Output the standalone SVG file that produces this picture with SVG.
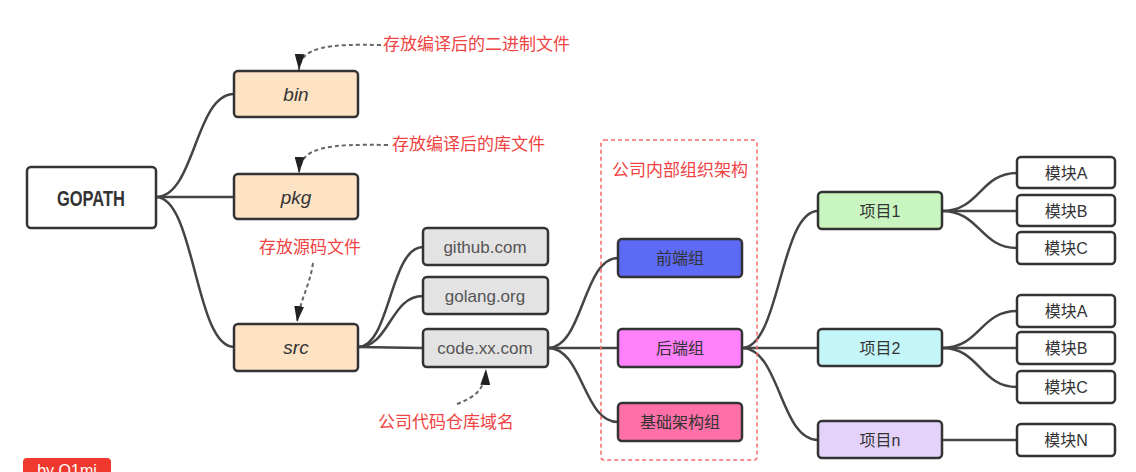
<svg xmlns="http://www.w3.org/2000/svg" width="1136" height="472" viewBox="0 0 1136 472">
<defs>
<marker id="tri" viewBox="0 0 16 10" refX="16" refY="5" markerWidth="16" markerHeight="10" markerUnits="userSpaceOnUse" orient="auto">
<path d="M0,0 L16,5 L0,10 Z" fill="#222"/>
</marker>
<style>
.box{stroke:#333;stroke-width:2.5}
.t{font-family:"Liberation Sans","Noto Sans CJK SC",sans-serif;text-anchor:middle;dominant-baseline:central;fill:#333}
.it{font-style:italic;font-size:19px}
.dom{font-size:17px;fill:#555}
.cj{font-family:"Liberation Sans","Noto Sans CJK SC",sans-serif;font-size:16px;text-anchor:middle;dominant-baseline:central;fill:#333}
.ann{font-family:"Noto Sans CJK SC",sans-serif;font-size:17px;fill:#f04343}
.conn{fill:none;stroke:#444;stroke-width:2.5}
.dash{fill:none;stroke:#666;stroke-width:2;stroke-dasharray:4 3}
</style>
</defs>
<rect width="1136" height="472" fill="#fff"/>

<g id="connectors">
<path class="conn" d="M156,197 C195,197 195,94 234,94"/>
<path class="conn" d="M156,197 L234,197"/>
<path class="conn" d="M156,197 C195,197 195,347 234,347"/>
<path class="conn" d="M358,347 C390,347 390,247 423,247"/>
<path class="conn" d="M358,347 C390,347 390,296 423,296"/>
<path class="conn" d="M358,347 L423,348"/>
<path class="conn" d="M548,348 C583,348 583,258 618,258"/>
<path class="conn" d="M548,348 L618,348"/>
<path class="conn" d="M548,348 C583,348 583,422 618,422"/>
<path class="conn" d="M742,348 C780,348 780,211 818,211"/>
<path class="conn" d="M742,348 L818,348"/>
<path class="conn" d="M742,348 C780,348 780,440 818,440"/>
<path class="conn" d="M942,211 C980,211 980,173 1017,173"/>
<path class="conn" d="M942,211 L1017,211"/>
<path class="conn" d="M942,211 C980,211 980,248 1017,248"/>
<path class="conn" d="M942,348 C980,348 980,311 1017,311"/>
<path class="conn" d="M942,348 L1017,348"/>
<path class="conn" d="M942,348 C980,348 980,387 1017,387"/>
<path class="conn" d="M942,440 L1017,440"/>
<path class="dash" d="M381,45 C330,44 300,46 299,70" marker-end="url(#tri)"/>
<path class="dash" d="M388,145 C330,144 300,146 299,173" marker-end="url(#tri)"/>
<path class="dash" d="M313,263 C310,285 300,300 297,322" marker-end="url(#tri)"/>
<path class="dash" d="M457,404 C472,398 485,392 486,369" marker-end="url(#tri)"/>
</g>

<g id="group-frame">
<rect x="601" y="140" width="156" height="320" rx="3" fill="none" stroke="#f46a6a" stroke-width="1.5" stroke-dasharray="4 3"/>
<text class="ann" x="680" y="176" text-anchor="middle">公司内部组织架构</text>
</g>

<g id="gopath">
<rect class="box" x="27" y="167" width="129" height="61" rx="4" fill="#fff"/>
<text class="t" x="91" y="198" font-size="22" font-weight="bold" textLength="68" lengthAdjust="spacingAndGlyphs">GOPATH</text>
</g>
<g id="bin">
<rect class="box" x="234" y="71" width="124" height="46" rx="4" fill="#fde2c4"/>
<text class="t it" x="296" y="94">bin</text>
</g>
<g id="pkg">
<rect class="box" x="234" y="174" width="124" height="45" rx="4" fill="#fde2c4"/>
<text class="t it" x="296" y="197">pkg</text>
</g>
<g id="src">
<rect class="box" x="234" y="324" width="124" height="47" rx="4" fill="#fde2c4"/>
<text class="t it" x="296" y="347">src</text>
</g>
<g id="github">
<rect class="box" x="423" y="228" width="125" height="37" rx="4" fill="#e3e3e3"/>
<text class="t dom" x="485" y="247">github.com</text>
</g>
<g id="golang">
<rect class="box" x="423" y="277" width="125" height="37" rx="4" fill="#e3e3e3"/>
<text class="t dom" x="485" y="296">golang.org</text>
</g>
<g id="codexx">
<rect class="box" x="423" y="329" width="125" height="38" rx="4" fill="#e3e3e3"/>
<text class="t dom" x="485" y="348">code.xx.com</text>
</g>
<g id="frontend">
<rect class="box" x="618" y="239" width="124" height="38" rx="4" fill="#5c6af5"/>
<text class="cj" x="680" y="258" fill="#2a2f6a">前端组</text>
</g>
<g id="backend">
<rect class="box" x="618" y="329" width="124" height="38" rx="4" fill="#ff80fb"/>
<text class="cj" x="680" y="348">后端组</text>
</g>
<g id="infra">
<rect class="box" x="618" y="403" width="124" height="38" rx="4" fill="#ff70a8"/>
<text class="cj" x="680" y="422">基础架构组</text>
</g>
<g id="proj1">
<rect class="box" x="818" y="192" width="124" height="37" rx="4" fill="#c8f5c0"/>
<text class="cj" x="880" y="211">项目1</text>
</g>
<g id="proj2">
<rect class="box" x="818" y="329" width="124" height="37" rx="4" fill="#c4f6f9"/>
<text class="cj" x="880" y="348">项目2</text>
</g>
<g id="projn">
<rect class="box" x="818" y="421" width="124" height="37" rx="4" fill="#e4d2fb"/>
<text class="cj" x="880" y="440">项目n</text>
</g>
<g id="m1a"><rect class="box" x="1017" y="157" width="98" height="31" rx="4" fill="#fff"/><text class="cj" x="1066" y="173">模块A</text></g>
<g id="m1b"><rect class="box" x="1017" y="195" width="98" height="31" rx="4" fill="#fff"/><text class="cj" x="1066" y="211">模块B</text></g>
<g id="m1c"><rect class="box" x="1017" y="232" width="98" height="32" rx="4" fill="#fff"/><text class="cj" x="1066" y="248">模块C</text></g>
<g id="m2a"><rect class="box" x="1017" y="295" width="98" height="32" rx="4" fill="#fff"/><text class="cj" x="1066" y="311">模块A</text></g>
<g id="m2b"><rect class="box" x="1017" y="332" width="98" height="32" rx="4" fill="#fff"/><text class="cj" x="1066" y="348">模块B</text></g>
<g id="m2c"><rect class="box" x="1017" y="371" width="98" height="32" rx="4" fill="#fff"/><text class="cj" x="1066" y="387">模块C</text></g>
<g id="mnn"><rect class="box" x="1017" y="424" width="98" height="32" rx="4" fill="#fff"/><text class="cj" x="1066" y="440">模块N</text></g>

<g id="annotations">
<text class="ann" x="383" y="50">存放编译后的二进制文件</text>
<text class="ann" x="392" y="150">存放编译后的库文件</text>
<text class="ann" x="310" y="253" text-anchor="middle">存放源码文件</text>
<text class="ann" x="446" y="428" text-anchor="middle">公司代码仓库域名</text>
</g>

<g id="badge">
<rect x="23" y="458" width="88" height="30" rx="4" fill="#f0392e"/>
<text x="67" y="476" font-family="Liberation Sans, sans-serif" font-size="16" fill="#fff" text-anchor="middle">by Q1mi</text>
</g>
</svg>
